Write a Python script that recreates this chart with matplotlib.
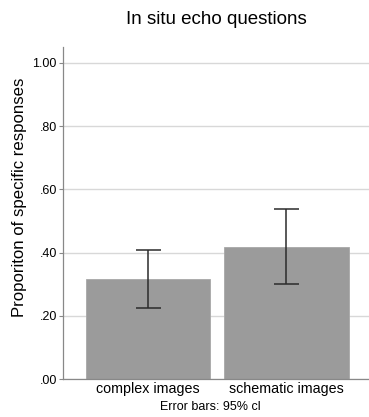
import matplotlib
matplotlib.use('Agg')
import matplotlib.pyplot as plt
import numpy as np

# values
categories = ['complex images', 'schematic images']
proportions = [0.315, 0.417]
ci_low = [0.225, 0.300]
ci_high = [0.407, 0.537]
ytick_values = [0.0, 0.2, 0.4, 0.6, 0.8, 1.0]
ytick_labels = ['.00', '.20', '.40', '.60', '.80', '1.00']

plt.rcParams['font.family'] = ['Liberation Sans', 'DejaVu Sans']

fig = plt.figure(figsize=(3.69, 4.17), dpi=100)
ax = fig.add_axes([63 / 369, 1 - 379 / 417, 1 - 63 / 369, (379 - 47) / 417])

x = np.arange(len(categories))
vals = np.array(proportions)
yerr = np.array([vals - np.array(ci_low), np.array(ci_high) - vals])

ax.bar(x, vals, width=0.9, color='#9b9b9b', edgecolor='#a8a8a8', linewidth=0.6, zorder=2)
ax.errorbar(x, vals, yerr=yerr, fmt='none', ecolor='#2b2b2b', elinewidth=1.1,
            capsize=9, capthick=1.1, zorder=3)

ax.set_xlim(-0.614, 1.596)
ax.set_ylim(0, 1.05)
ax.set_yticks(ytick_values)
ax.set_yticklabels(ytick_labels, fontsize=9)
ax.set_xticks(x)
ax.set_xticklabels(categories, fontsize=10.3)
ax.tick_params(axis='y', length=3, width=0.8, color='#888888', pad=1.5)
ax.tick_params(axis='x', length=0, pad=2)

ax.grid(axis='y', color='#d8d8d8', linewidth=1.0, zorder=0)
ax.set_axisbelow(True)
for side in ['top', 'right']:
    ax.spines[side].set_visible(False)
for side in ['left', 'bottom']:
    ax.spines[side].set_color('#888888')
    ax.spines[side].set_linewidth(0.9)

fig.text(216 / 369, 1 - 19 / 417, 'In situ echo questions', fontsize=13.5,
         ha='center', va='center')
fig.text(20 / 369, 1 - 197 / 417, 'Proporiton of specific responses', fontsize=12.1,
         rotation=90, ha='center', va='center')
fig.text(210 / 369, 1 - 407 / 417, 'Error bars: 95% cl', fontsize=9,
         ha='center', va='center')

fig.savefig('out.png', dpi=100)
